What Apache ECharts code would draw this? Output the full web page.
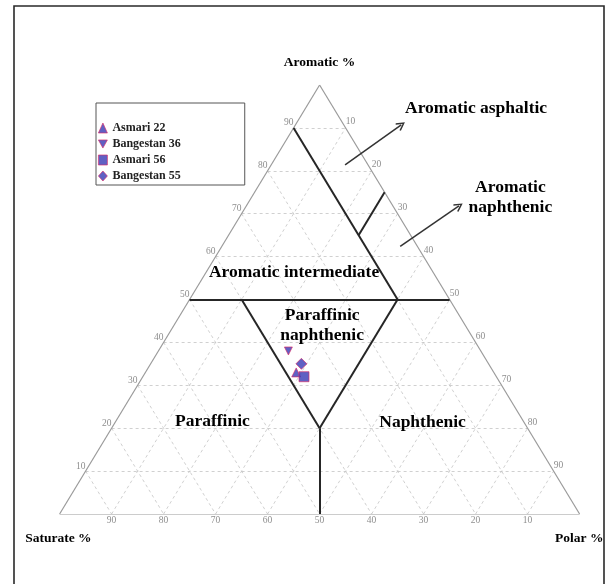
<!DOCTYPE html>
<html>
<head>
<meta charset="utf-8">
<title>Ternary diagram – Saturate / Aromatic / Polar</title>
<script src="https://cdn.jsdelivr.net/npm/echarts@6/dist/echarts.min.js"></script>
<style>
  html, body { margin: 0; padding: 0; background: #fff; }
  #chart { width: 611px; height: 584px; }
</style>
</head>
<body>
<div id="chart"></div>
<script>
// ---- Data (ternary compositions, %) ----
const sampleNames = ['Asmari 22', 'Bangestan 36', 'Asmari 56', 'Bangestan 55'];
const saturate = [38, 37, 37, 36];
const aromatic = [33, 38, 32, 35];
const polar    = [29, 25, 31, 29];

// Axis tick values shown along each side
const tickValues = [10, 20, 30, 40, 50, 60, 70, 80, 90];

// Classification boundaries, each segment given as [saturate, aromatic, polar] end points
const boundarySegments = [
  [[50, 50, 0], [0, 50, 50]],   // aromatic = 50
  [[10, 90, 0], [10, 50, 40]],  // saturate = 10
  [[10, 65, 25], [0, 75, 25]],  // polar = 25
  [[40, 50, 10], [40, 20, 40]], // saturate = 40
  [[10, 50, 40], [40, 20, 40]], // polar = 40
  [[40, 20, 40], [50, 0, 50]]   // saturate = polar
];

// Region names
const regionNames = {
  asphaltic: 'Aromatic asphaltic',
  aroNaph: 'Aromatic\nnaphthenic',
  intermediate: 'Aromatic intermediate',
  parNaph: 'Paraffinic\nnaphthenic',
  paraffinic: 'Paraffinic',
  naphthenic: 'Naphthenic'
};

// ---- Ternary -> cartesian (x: 0..100 along base, y: aromatic 0..100) ----
function tern(s, a, p) {
  const t = s + a + p;
  const A = a / t * 100, P = p / t * 100;
  return [P + A / 2, A];
}

const markerFill = '#3838b4';
const markerEdge = '#dc2a66';
const serif = '"Liberation Serif", "Times New Roman", serif';

// Outer triangle
const outline = [
  { coords: [tern(100, 0, 0), tern(0, 100, 0)] },
  { coords: [tern(0, 100, 0), tern(0, 0, 100)] },
  { coords: [tern(0, 0, 100), tern(100, 0, 0)] }
];

// Dashed grid every 10 %
const gridLines = [];
tickValues.forEach(k => {
  gridLines.push({ coords: [tern(100 - k, k, 0), tern(0, k, 100 - k)] });
  gridLines.push({ coords: [tern(k, 100 - k, 0), tern(k, 0, 100 - k)] });
  gridLines.push({ coords: [tern(100 - k, 0, k), tern(0, 100 - k, k)] });
});

const boundaries = boundarySegments.map(seg => ({
  coords: [tern.apply(null, seg[0]), tern.apply(null, seg[1])]
}));

// Tick labels: aromatic on the left side, polar on the right side, saturate on the base
const tickLabelStyle = { color: '#707070', fontSize: 9.5, fontFamily: serif };
const tickData = [];
tickValues.forEach(k => {
  tickData.push({ value: tern(100 - k, k, 0), label: { show: true, formatter: String(k), position: 'left', distance: 0, offset: [0, -5], ...tickLabelStyle } });
  tickData.push({ value: tern(0, 100 - k, k), label: { show: true, formatter: String(k), position: 'right', distance: 0, offset: [0, -6], ...tickLabelStyle } });
  tickData.push({ value: tern(k, 0, 100 - k), label: { show: true, formatter: String(k), position: 'bottom', distance: 1, ...tickLabelStyle } });
});

// Text annotations placed in plot coordinates
const bold = { fontFamily: serif, fontWeight: 'bold', color: '#000', opacity: 1 };
const textData = [
  { value: [50, 105.2], label: { formatter: 'Aromatic %', fontSize: 13.5, ...bold } },
  { value: [-6.6, -5.8], label: { formatter: 'Saturate %', fontSize: 13.5, align: 'left', ...bold } },
  { value: [104.6, -5.8], label: { formatter: 'Polar %', fontSize: 13.5, align: 'right', ...bold } },
  { value: [80.1, 94.5], label: { formatter: regionNames.asphaltic, fontSize: 17.5, ...bold } },
  { value: [86.7, 73.7], label: { formatter: regionNames.aroNaph, fontSize: 17.5, lineHeight: 20, ...bold } },
  { value: [45.1, 56.3], label: { formatter: regionNames.intermediate, fontSize: 17.5, ...bold } },
  { value: [50.5, 43.9], label: { formatter: regionNames.parNaph, fontSize: 17.5, lineHeight: 20, ...bold } },
  { value: [29.4, 21.6], label: { formatter: regionNames.paraffinic, fontSize: 17.5, ...bold } },
  { value: [69.8, 21.4], label: { formatter: regionNames.naphthenic, fontSize: 17.5, ...bold } }
];
textData.forEach(d => {
  d.label.show = true;
  d.label.position = [0, 0];
  if (!d.label.align) d.label.align = 'center';
  d.label.verticalAlign = 'middle';
});

// Pointer arrows towards the outside region names
const arrows = [
  { coords: [[54.9, 81.4], [65.7, 90.7]] },
  { coords: [[65.5, 62.4], [76.8, 71.8]] }
];
const chevron = 'path://M5,0 L10,9 L8.6,10 L5,3.2 L1.4,10 L0,9 Z';

const downTriangle = 'path://M0,0 L10,0 L5,9 Z';
const sampleSymbols = ['triangle', downTriangle, 'rect', 'diamond'];
const sampleSizes = [9, 8, 10, 11];
const markerStyle = { color: markerFill, borderColor: markerEdge, borderWidth: 0.8 };

const sampleSeries = sampleNames.map((name, i) => ({
  name: name,
  type: 'scatter',
  symbol: sampleSymbols[i],
  symbolSize: sampleSizes[i],
  itemStyle: markerStyle,
  data: [tern(saturate[i], aromatic[i], polar[i])],
  z: 10
}));

const chart = echarts.init(document.getElementById('chart'), null, { renderer: 'canvas' });
chart.setOption({
  animation: false,
  backgroundColor: '#fff',
  grid: { left: 59.6, top: 85, width: 520, height: 429, containLabel: false },
  xAxis: { type: 'value', min: 0, max: 100, show: false },
  yAxis: { type: 'value', min: 0, max: 100, show: false },
  legend: {
    orient: 'vertical',
    left: 96, top: 103,
    padding: [19, 64, 3, 2],
    itemGap: 4,
    itemWidth: 9, itemHeight: 10,
    borderColor: '#555', borderWidth: 1,
    itemStyle: markerStyle,
    textStyle: { fontFamily: serif, fontWeight: 'bold', fontSize: 12, color: '#222' },
    data: sampleNames.map((n, i) => ({ name: n, icon: sampleSymbols[i] }))
  },
  graphic: [{
    type: 'rect', silent: true,
    shape: { x: 14, y: 6, width: 590, height: 620 },
    style: { fill: 'none', stroke: '#2a2a2a', lineWidth: 1.6 }
  }],
  series: [
    { type: 'lines', coordinateSystem: 'cartesian2d', silent: true, data: gridLines,
      lineStyle: { color: '#c4c4c4', width: 0.8, type: [3, 3], opacity: 1 }, z: 1 },
    { type: 'lines', coordinateSystem: 'cartesian2d', silent: true, data: outline,
      lineStyle: { color: '#9a9a9a', width: 1.2, opacity: 1 }, z: 2 },
    { type: 'lines', coordinateSystem: 'cartesian2d', silent: true, data: boundaries,
      lineStyle: { color: '#262626', width: 2, opacity: 1 }, z: 3 },
    { type: 'lines', coordinateSystem: 'cartesian2d', silent: true, clip: false, data: arrows,
      symbol: ['none', chevron], symbolSize: 9,
      lineStyle: { color: '#333', width: 1.5, opacity: 1 }, z: 3 },
    { type: 'scatter', silent: true, clip: false, data: tickData, symbolSize: 0.1,
      itemStyle: { color: '#fff' }, z: 4 },
    { type: 'scatter', silent: true, clip: false, data: textData, symbolSize: 0.1,
      itemStyle: { color: '#fff' }, z: 5 },
    ...sampleSeries
  ]
});
</script>
</body>
</html>
